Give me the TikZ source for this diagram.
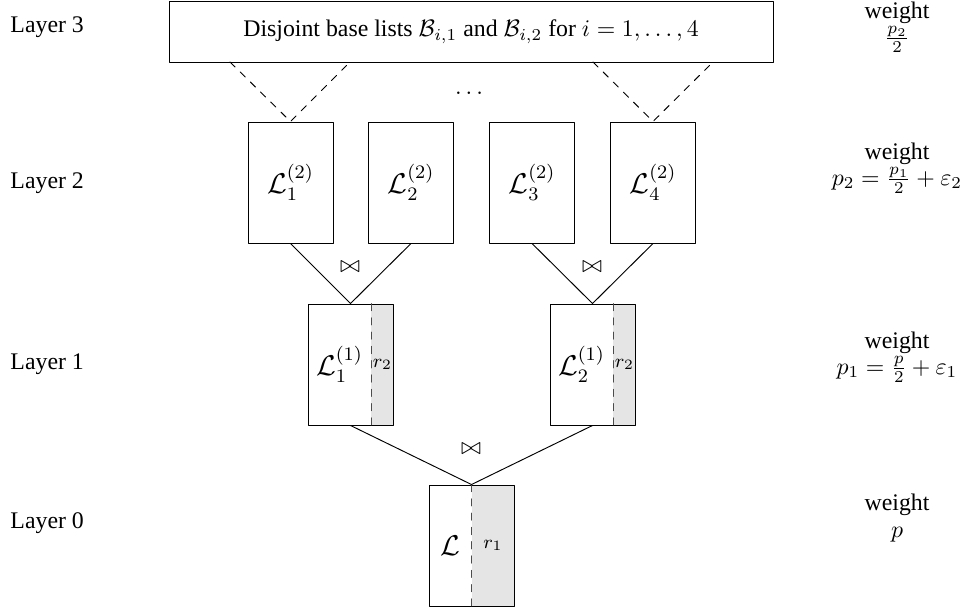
\documentclass[tikz,border=0pt]{standalone}
\usepackage[no-math]{fontspec}
\setmainfont{Liberation Serif}
\usepackage{amsmath}
\usetikzlibrary{calc}

\begin{document}
\begin{tikzpicture}[line cap=round,line join=round,x=0.42pt,y=-0.42pt,
  listbox/.style={draw,rectangle,inner sep=0pt,minimum width=35.7pt,minimum height=50.82pt},
  lname/.style={font=\large},
  rname/.style={font=\footnotesize},
  layer/.style={anchor=west,inner sep=0pt},
  weight/.style={align=center,inner sep=0pt}]
\definecolor{ltgray}{rgb}{0.9,0.9,0.9}
\useasboundingbox (0,0) rectangle (971,610);
% layer 3
\node[draw,rectangle,minimum width=253.68pt,minimum height=25.62pt,inner sep=0pt] (base) at (471,31.5) {Disjoint base lists $\mathcal{B}_{i,1}$ and $\mathcal{B}_{i,2}$ for $i=1,\dots,4$};
\node (dots) at (471,93) {$\dots$};
% layer 2
\node[listbox] (L21) at (290.5,182.5) {};
\node[listbox] (L22) at (411,182.5) {};
\node[listbox] (L23) at (532,182.5) {};
\node[listbox] (L24) at (653,182.5) {};
\node[lname] (l21) at (L21) {$\mathcal{L}_1^{(2)}$};
\node[lname] (l22) at (L22) {$\mathcal{L}_2^{(2)}$};
\node[lname] (l23) at (L23) {$\mathcal{L}_3^{(2)}$};
\node[lname] (l24) at (L24) {$\mathcal{L}_4^{(2)}$};
\coordinate (b1) at (230,62);
\coordinate (b2) at (350,62);
\coordinate (b3) at (593,62);
\coordinate (b4) at (713,62);
\draw [dashed] (b1)-- (L21.north)-- (b2);
\draw [dashed] (b3)-- (L24.north)-- (b4);
% layer 1
\fill[ltgray] (371,304) rectangle (393,425);
\fill[ltgray] (613,304) rectangle (635,425);
\node[listbox] (L11) at (350.5,364.5) {};
\node[listbox] (L12) at (592.5,364.5) {};
\draw [dashed,black!70] ($(L11.north east)+(-22,0)$)-- ($(L11.south east)+(-22,0)$);
\draw [dashed,black!70] ($(L12.north east)+(-22,0)$)-- ($(L12.south east)+(-22,0)$);
\node[lname] (l11) at (339.5,364.5) {$\mathcal{L}_1^{(1)}$};
\node[lname] (l12) at (581.5,364.5) {$\mathcal{L}_2^{(1)}$};
\node[rname] (r21) at (382.5,364.5) {$r_2$};
\node[rname] (r22) at (624.5,364.5) {$r_2$};
\draw (L21.south)-- (L11.north)-- (L22.south);
\draw (L23.south)-- (L12.north)-- (L24.south);
\node (j1) at (350,267) {$\bowtie$};
\node (j2) at (592,267) {$\bowtie$};
% layer 0
\fill[ltgray] (471.5,485) rectangle (514,606);
\node[listbox] (L0) at (471.5,545.5) {};
\draw [dashed,black!70] (L0.north)-- (L0.south);
\node[lname] (l0) at (450.5,545.5) {$\mathcal{L}$};
\node[rname] (r1) at (493,545.5) {$r_1$};
\draw (L11.south)-- (L0.north)-- (L12.south);
\node (j0) at (471,449) {$\bowtie$};
% layer names and weights
\node[layer] (n3) at (10,27) {Layer 3};
\node[layer] (n2) at (10,183) {Layer 2};
\node[layer] (n1) at (10,364) {Layer 1};
\node[layer] (n0) at (10,523) {Layer 0};
\node[weight] (w3) at (897,27) {weight\\[-1pt]$\frac{p_2}{2}$};
\node[weight] (w2) at (897,168) {weight\\[-1pt]$p_2=\frac{p_1}{2}+\varepsilon_2$};
\node[weight] (w1) at (897,357) {weight\\[-1pt]$p_1=\frac{p}{2}+\varepsilon_1$};
\node[weight] (w0) at (897,518) {weight\\[-1pt]$p$};
\end{tikzpicture}
\end{document}
